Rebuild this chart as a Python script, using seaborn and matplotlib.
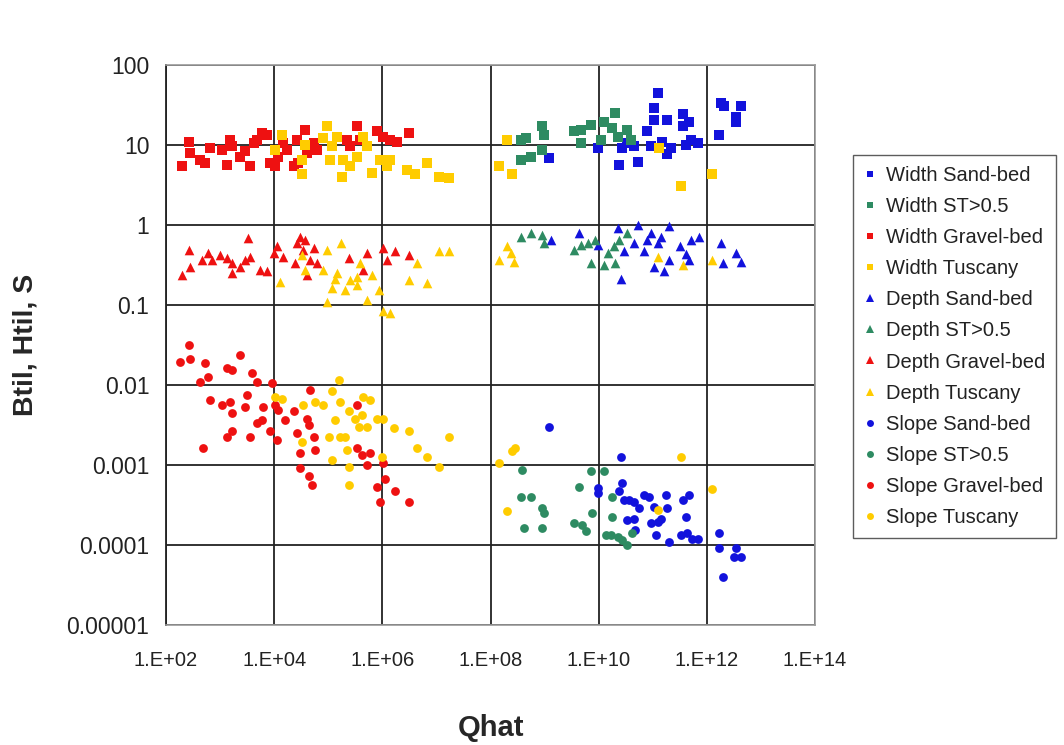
import numpy as np
import pandas as pd
import matplotlib
matplotlib.use("Agg")
import matplotlib.pyplot as plt
from matplotlib.ticker import FixedLocator, FixedFormatter, NullLocator
from matplotlib.lines import Line2D
import seaborn as sns

# Dimensionless channel geometry against dimensionless discharge.
# Values stored as base-10 exponents: (log10 Qhat, log10 value).

width_sand_q = [9.08, 9.98, 10.44, 10.53, 10.65, 10.38, 10.72, 10.90, 10.96, 11.02, 11.02, 11.09, 11.27, 11.27,
                11.33, 11.18, 11.55, 11.55, 11.67, 11.61, 11.70, 11.83, 12.22, 12.26, 12.32, 12.54, 12.54, 12.63]
width_sand_y = [0.83, 0.96, 0.96, 1.02, 0.98, 0.75, 0.79, 1.17, 0.98, 1.31, 1.46, 1.65, 1.31, 0.88,
                0.96, 1.04, 1.38, 1.23, 1.29, 1.00, 1.06, 1.02, 1.12, 1.52, 1.48, 1.35, 1.29, 1.48]

width_st_q = [8.56, 8.65, 8.56, 8.74, 8.96, 8.98, 8.96, 9.54, 9.67, 9.85, 9.67, 10.10, 10.31, 10.25,
              10.35, 10.53, 10.59, 10.04]
width_st_y = [1.06, 1.08, 0.81, 0.85, 1.23, 1.12, 0.94, 1.17, 1.19, 1.25, 1.02, 1.29, 1.40, 1.21,
              1.10, 1.19, 1.06, 1.06]

width_gravel_q = [2.29, 2.43, 2.44, 2.63, 2.72, 2.81, 3.03, 3.12, 3.19, 3.22, 3.37, 3.46, 3.56, 3.62,
                  3.68, 3.77, 3.86, 3.93, 4.02, 4.08, 4.17, 4.23, 4.36, 4.42, 4.45, 4.57, 4.60, 4.73,
                  4.79, 5.35, 5.41, 5.53, 5.59, 5.90, 6.02, 6.15, 6.27, 6.49]
width_gravel_y = [0.73, 1.04, 0.90, 0.81, 0.77, 0.96, 0.94, 0.75, 1.06, 0.98, 0.85, 0.92, 0.73, 1.02,
                  1.06, 1.15, 1.12, 0.77, 0.73, 0.85, 1.02, 0.94, 0.73, 1.06, 0.77, 1.19, 0.90, 1.02,
                  0.94, 1.06, 0.98, 1.23, 1.06, 1.17, 1.10, 1.06, 1.04, 1.15]

width_tusc_q = [4.14, 4.02, 4.51, 4.51, 4.57, 4.98, 4.91, 5.07, 5.04, 5.16, 5.25, 5.28, 5.41, 5.53,
                5.65, 5.72, 5.81, 5.96, 6.09, 6.15, 6.46, 6.61, 6.83, 7.04, 7.23,
                8.31, 8.15, 8.40, 11.11, 11.52, 12.10]
width_tusc_y = [1.12, 0.94, 0.81, 0.63, 1.00, 1.23, 1.08, 0.98, 0.81, 1.10, 0.60, 0.81, 0.73, 0.85,
                1.10, 0.98, 0.65, 0.81, 0.73, 0.81, 0.69, 0.63, 0.77, 0.60, 0.58,
                1.06, 0.73, 0.63, 0.96, 0.48, 0.63]

depth_sand_q = [9.11, 9.64, 9.98, 10.35, 10.47, 10.41, 10.65, 10.72, 10.84, 10.90, 10.96, 11.02, 11.09,
                11.15, 11.21, 11.30, 11.30, 11.51, 11.61, 11.67, 11.70, 11.86, 12.26, 12.30, 12.54, 12.63]
depth_sand_y = [-0.19, -0.10, -0.25, -0.04, -0.33, -0.67, -0.23, 0.00, -0.33, -0.19, -0.10, -0.52, -0.23,
                -0.15, -0.58, -0.02, -0.44, -0.27, -0.36, -0.44, -0.19, -0.15, -0.23, -0.48, -0.35, -0.46]

depth_st_q = [8.56, 8.74, 8.96, 8.98, 9.54, 9.67, 9.80, 9.93, 9.86, 10.10, 10.17, 10.31, 10.28, 10.38, 10.53]
depth_st_y = [-0.15, -0.10, -0.13, -0.23, -0.31, -0.25, -0.23, -0.19, -0.48, -0.50, -0.35, -0.48, -0.27,
              -0.19, -0.10]

depth_gravel_q = [2.29, 2.43, 2.44, 2.66, 2.78, 2.85, 3.00, 3.12, 3.22, 3.22, 3.37, 3.46, 3.52, 3.56,
                  3.74, 3.86, 3.99, 4.05, 4.17, 4.39, 4.42, 4.48, 4.54, 4.57, 4.60, 4.67, 4.73, 4.79,
                  5.38, 5.65, 5.72, 6.02, 6.09, 6.24, 6.49]
depth_gravel_y = [-0.63, -0.31, -0.52, -0.44, -0.35, -0.44, -0.38, -0.42, -0.48, -0.60, -0.52, -0.44,
                  -0.17, -0.40, -0.56, -0.58, -0.35, -0.27, -0.40, -0.48, -0.23, -0.15, -0.31, -0.19,
                  -0.63, -0.44, -0.29, -0.48, -0.42, -0.56, -0.35, -0.29, -0.44, -0.33, -0.38]

depth_tusc_q = [4.11, 4.51, 4.57, 4.98, 5.23, 4.91, 5.07, 5.13, 5.31, 4.98, 5.16, 5.41, 5.53, 5.59,
                5.53, 5.72, 5.81, 5.93, 6.02, 6.15, 6.49, 6.64, 6.83, 7.04, 7.23,
                8.31, 8.37, 8.15, 8.43, 11.09, 11.55, 12.10]
depth_tusc_y = [-0.71, -0.38, -0.56, -0.31, -0.23, -0.56, -0.79, -0.67, -0.81, -0.96, -0.60, -0.69,
                -0.65, -0.48, -0.75, -0.94, -0.63, -0.81, -1.08, -1.10, -0.69, -0.48, -0.73, -0.33,
                -0.33, -0.27, -0.35, -0.44, -0.46, -0.40, -0.50, -0.44]

slope_sand_q = [9.08, 10.41, 9.98, 9.98, 10.44, 10.38, 10.47, 10.56, 10.65, 10.75, 10.53, 10.65, 10.68,
                10.84, 10.93, 10.96, 11.02, 11.09, 11.15, 11.06, 11.24, 11.27, 11.30, 11.55, 11.67,
                11.61, 11.52, 11.64, 11.73, 11.83, 12.23, 12.23, 12.54, 12.51, 12.63, 12.29]
slope_sand_y = [-2.52, -2.90, -3.29, -3.35, -3.23, -3.33, -3.44, -3.44, -3.46, -3.54, -3.69, -3.67, -3.81,
                -3.38, -3.40, -3.73, -3.52, -3.71, -3.67, -3.88, -3.38, -3.54, -3.96, -3.44, -3.38,
                -3.65, -3.88, -3.85, -3.92, -3.92, -3.85, -4.04, -4.04, -4.15, -4.15, -4.40]

slope_st_q = [8.59, 8.56, 8.74, 8.62, 8.96, 8.98, 8.96, 9.64, 9.54, 9.70, 9.76, 9.85, 9.88, 10.10,
              10.13, 10.25, 10.25, 10.22, 10.35, 10.44, 10.53, 10.62]
slope_st_y = [-3.06, -3.40, -3.40, -3.79, -3.54, -3.60, -3.79, -3.28, -3.73, -3.75, -3.83, -3.08, -3.60,
              -3.08, -3.88, -3.40, -3.65, -3.88, -3.90, -3.94, -4.00, -3.85]

slope_gravel_q = [2.26, 2.43, 2.44, 2.72, 2.63, 2.78, 2.69, 2.81, 3.03, 3.12, 3.22, 3.19, 3.22, 3.12,
                  3.22, 3.37, 3.46, 3.49, 3.56, 3.59, 3.68, 3.68, 3.77, 3.80, 3.93, 3.96, 4.02, 4.05,
                  4.08, 4.20, 4.36, 4.42, 4.48, 4.48, 4.60, 4.64, 4.67, 4.73, 4.76, 4.64, 4.70, 5.53,
                  5.53, 5.62, 5.72, 5.78, 5.90, 5.96, 6.05, 6.24, 6.49, 6.02]
slope_gravel_y = [-1.71, -1.50, -1.67, -1.73, -1.96, -1.90, -2.79, -2.19, -2.25, -1.79, -1.81, -2.21,
                  -2.35, -2.65, -2.58, -1.63, -2.27, -2.13, -2.65, -1.85, -1.96, -2.48, -2.44, -2.27,
                  -2.58, -1.98, -2.25, -2.69, -2.31, -2.44, -2.33, -2.60, -2.85, -3.04, -2.42, -2.50,
                  -2.06, -2.65, -2.81, -3.14, -3.25, -2.25, -2.79, -2.88, -3.00, -2.85, -3.27, -3.46,
                  -3.17, -3.33, -3.46, -2.98]

slope_tusc_q = [4.02, 4.14, 4.54, 4.51, 4.76, 4.91, 5.07, 5.19, 5.22, 5.13, 5.01, 5.07, 5.22, 5.31,
                5.38, 5.38, 5.38, 5.35, 5.50, 5.56, 5.62, 5.65, 5.72, 5.78, 5.90, 5.99, 6.02, 6.21,
                6.49, 6.64, 6.83, 7.04, 7.23, 8.15, 8.40, 8.46, 8.31, 11.52, 12.10, 11.09]
slope_tusc_y = [-2.15, -2.17, -2.25, -2.71, -2.21, -2.25, -2.08, -1.94, -2.21, -2.44, -2.65, -2.94,
                -2.65, -2.65, -2.33, -3.02, -3.25, -2.81, -2.42, -2.52, -2.38, -2.15, -2.52, -2.19,
                -2.42, -2.90, -2.42, -2.54, -2.58, -2.79, -2.90, -3.02, -2.65, -2.98, -2.83, -2.79,
                -3.58, -2.90, -3.30, -3.56]

series_names = ["Width Sand-bed", "Width ST>0.5", "Width Gravel-bed", "Width Tuscany",
                "Depth Sand-bed", "Depth ST>0.5", "Depth Gravel-bed", "Depth Tuscany",
                "Slope Sand-bed", "Slope ST>0.5", "Slope Gravel-bed", "Slope Tuscany"]
series_q = [width_sand_q, width_st_q, width_gravel_q, width_tusc_q,
            depth_sand_q, depth_st_q, depth_gravel_q, depth_tusc_q,
            slope_sand_q, slope_st_q, slope_gravel_q, slope_tusc_q]
series_y = [width_sand_y, width_st_y, width_gravel_y, width_tusc_y,
            depth_sand_y, depth_st_y, depth_gravel_y, depth_tusc_y,
            slope_sand_y, slope_st_y, slope_gravel_y, slope_tusc_y]

x_tick_labels = ["1.E+02", "1.E+04", "1.E+06", "1.E+08", "1.E+10", "1.E+12", "1.E+14"]
y_tick_labels = ["0.00001", "0.0001", "0.001", "0.01", "0.1", "1", "10", "100"]

# Drawing styles
group_colors = ["#1212dc", "#2e8b62", "#ee1111", "#ffcc00"]
kind_markers = ["s", "^", "o"]
kind_sizes = [42, 48, 40]

frames = []
for name, q, y in zip(series_names, series_q, series_y):
    frames.append(pd.DataFrame({"Qhat": 10.0 ** np.array(q),
                                "value": 10.0 ** np.array(y),
                                "series": name}))
df = pd.concat(frames, ignore_index=True)

sns.set_theme(style="white")
plt.rcParams["font.family"] = ["Liberation Sans", "DejaVu Sans"]

fig = plt.figure(figsize=(10.64, 7.45), dpi=100)
ax = fig.add_axes([0.156, 0.161, 0.610, 0.752])

handles = []
for i, name in enumerate(series_names):
    kind, grp = divmod(i, 4)
    sub = df[df["series"] == name]
    sns.scatterplot(data=sub, x="Qhat", y="value", ax=ax, color=group_colors[grp],
                    marker=kind_markers[kind], s=kind_sizes[kind], linewidth=0,
                    legend=False, zorder=3)
    handles.append(Line2D([], [], linestyle="none", marker=kind_markers[kind],
                          markersize=5 if kind != 1 else 5.5,
                          markerfacecolor=group_colors[grp], markeredgewidth=0,
                          label=name))

ax.set_xscale("log")
ax.set_yscale("log")
ax.set_xlim(1e2, 1e14)
ax.set_ylim(1e-5, 1e2)

x_ticks = [10.0 ** e for e in range(2, 15, 2)]
y_ticks = [10.0 ** e for e in range(-5, 3)]
ax.xaxis.set_major_locator(FixedLocator(x_ticks))
ax.xaxis.set_major_formatter(FixedFormatter(x_tick_labels))
ax.yaxis.set_major_locator(FixedLocator(y_ticks))
ax.yaxis.set_major_formatter(FixedFormatter(y_tick_labels))
ax.xaxis.set_minor_locator(NullLocator())
ax.yaxis.set_minor_locator(NullLocator())

ax.grid(True, which="major", color="#222222", linewidth=1.3)
ax.set_axisbelow(True)
for side in ["top", "right", "bottom"]:
    ax.spines[side].set_color("#9a9a9a")
    ax.spines[side].set_linewidth(1.2)
ax.spines["left"].set_color("#222222")
ax.spines["left"].set_linewidth(1.3)

ax.tick_params(axis="both", which="major", direction="out", length=5, width=1,
               color="#555555", labelcolor="#222222")
ax.tick_params(axis="x", labelsize=14.5, pad=14)
ax.tick_params(axis="y", labelsize=16.5, pad=7)

ax.set_xlabel("Qhat", fontsize=21, fontweight="bold")
ax.set_ylabel("Btil, Htil, S", fontsize=20.5, fontweight="bold")
ax.xaxis.set_label_coords(0.5, -0.158)
ax.yaxis.set_label_coords(-0.197, 0.5)

leg = fig.legend(handles=handles, loc="upper left", bbox_to_anchor=(0.802, 0.792),
                 frameon=True, fancybox=False, fontsize=14.5, handlelength=0.6,
                 handletextpad=0.45, labelspacing=0.6, borderpad=0.55,
                 borderaxespad=0)
leg.get_frame().set_edgecolor("#333333")
leg.get_frame().set_linewidth(1.0)
for t in leg.get_texts():
    t.set_color("#222222")

fig.savefig("out.png", dpi=100, facecolor="white")
